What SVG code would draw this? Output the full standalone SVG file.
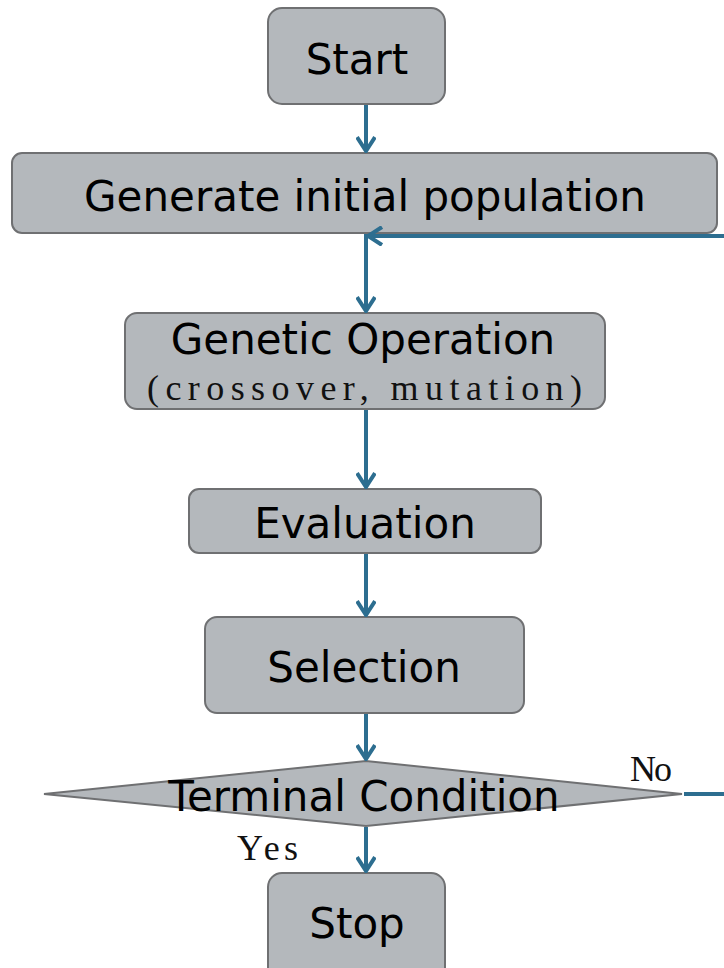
<svg xmlns="http://www.w3.org/2000/svg" width="724" height="968" viewBox="0 0 724 968">
<style>
.box{fill:#b4b8bc;stroke:#6f7072;stroke-width:2}
.t{font-family:"DejaVu Sans",Verdana,sans-serif;font-size:42px;fill:#000;text-anchor:middle}
.m{font-family:"Liberation Serif","Times New Roman",serif;font-size:36px;fill:#111}
.c{fill:none;stroke:#2d6e90;stroke-width:4}
</style>
<defs>
<marker id="ah" viewBox="0 0 20 20" refX="18" refY="10" markerWidth="20" markerHeight="20" markerUnits="userSpaceOnUse" orient="auto">
<path d="M4 1 L18 10 L4 19" fill="none" stroke="#2d6e90" stroke-width="4"/>
</marker>
</defs>
<rect width="724" height="968" fill="#fff"/>
<g id="start">
<rect class="box" x="268" y="8" width="177" height="96" rx="14"/>
<text class="t" x="357" y="74">Start</text>
</g>
<g id="generate">
<rect class="box" x="12" y="153" width="705" height="80" rx="10"/>
<text class="t" x="365" y="211">Generate initial population</text>
</g>
<g id="genetic">
<rect class="box" x="125" y="313" width="480" height="96" rx="12"/>
<text class="t" x="363" y="354">Genetic Operation</text>
<text class="m" x="147" y="400" textLength="435" lengthAdjust="spacing">(crossover, mutation)</text>
</g>
<g id="evaluation">
<rect class="box" x="189" y="489" width="352" height="64" rx="10"/>
<text class="t" x="365" y="538">Evaluation</text>
</g>
<g id="selection">
<rect class="box" x="205" y="617" width="319" height="96" rx="12"/>
<text class="t" x="364" y="682">Selection</text>
</g>
<g id="terminal">
<polygon class="box" points="44,794 366,761 682,794 366,826"/>
<text class="t" x="364" y="811">Terminal Condition</text>
<text class="m" x="630" y="781" textLength="42" lengthAdjust="spacing">No</text>
<text class="m" x="237" y="860" textLength="61" lengthAdjust="spacing">Yes</text>
</g>
<g id="stop">
<rect class="box" x="268" y="873" width="177" height="110" rx="14"/>
<text class="t" x="357" y="938">Stop</text>
</g>
<g id="connectors">
<line class="c" x1="366" y1="105" x2="366" y2="151" marker-end="url(#ah)"/>
<line class="c" x1="366" y1="234" x2="366" y2="311" marker-end="url(#ah)"/>
<line class="c" x1="366" y1="410" x2="366" y2="487" marker-end="url(#ah)"/>
<line class="c" x1="366" y1="554" x2="366" y2="615" marker-end="url(#ah)"/>
<line class="c" x1="366" y1="714" x2="366" y2="759" marker-end="url(#ah)"/>
<line class="c" x1="366" y1="827" x2="366" y2="871" marker-end="url(#ah)"/>
<path class="c" d="M684 794 H740 V236 H368" marker-end="url(#ah)"/>
</g>
</svg>
